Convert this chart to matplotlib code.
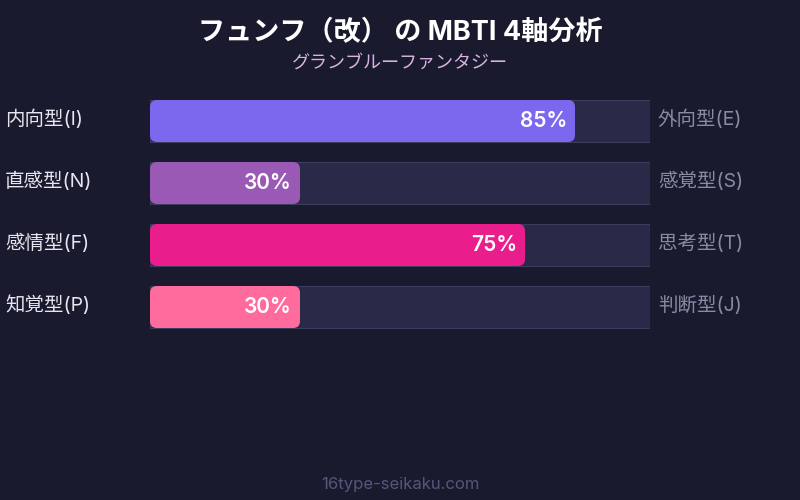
import matplotlib
matplotlib.use("Agg")
import matplotlib.pyplot as plt
from matplotlib.patches import FancyBboxPatch

plt.rcParams['font.family'] = ['Inter', 'Noto Sans CJK JP', 'DejaVu Sans']

title = "フュンフ（改） の MBTI 4軸分析"
subtitle = "グランブルーファンタジー"
footer = "16type-seikaku.com"
left_labels = ["内向型(I)", "直感型(N)", "感情型(F)", "知覚型(P)"]
right_labels = ["外向型(E)", "感覚型(S)", "思考型(T)", "判断型(J)"]
values = [85, 30, 75, 30]
colors = ["#7b68ee", "#9b59b6", "#e91e8c", "#ff6b9d"]

BG = "#1a1a2e"
W, H = 800, 500
fig = plt.figure(figsize=(8, 5), dpi=100, facecolor=BG)

# bar axes in pixel layout: x 150..650, y 90..338
ax = fig.add_axes([150 / W, 1 - 338 / H, 500 / W, 248 / H])
ax.set_facecolor(BG)
ax.set_xlim(0, 100)
ax.set_ylim(len(values) - 0.5, -0.5)
ax.axis('off')

bh = 42 / 62
ys = list(range(len(values)))
ax.barh(ys, [100] * len(values), height=bh, left=0, color="#2a2a48",
        edgecolor="#3c3c5c", linewidth=0.8, zorder=1)

px_x = 100 / 500
px_y = 1 / 62
r = 7 * px_x
for y, v, c, ll, rl in zip(ys, values, colors, left_labels, right_labels):
    p = FancyBboxPatch((0, y - bh / 2), v, bh,
                       boxstyle=f"round,pad=0,rounding_size={r}",
                       mutation_aspect=(7 * px_y) / r,
                       facecolor=c, edgecolor="none", zorder=2)
    ax.add_patch(p)
    ax.text(v - 8 * px_x, y, f"{v}%", ha='right', va='center', color='white',
            fontsize=15, fontweight='semibold', zorder=3)
    ax.text(-145 * px_x, y - 0.03, ll, ha='left', va='center', color='#e6e6f0',
            fontsize=14, clip_on=False)
    ax.text(100 + 8 * px_x, y - 0.03, rl, ha='left', va='center', color='#8a8aa6',
            fontsize=14, clip_on=False)

fig.text(0.5, 1 - 33 / H, title, ha='center', va='center', color='white',
         fontsize=19.5, fontweight='bold')
fig.text(0.5, 1 - 63 / H, subtitle, ha='center', va='center', color='#d8b4e2',
         fontsize=13)
fig.text(0.5, 1 - 484 / H, footer, ha='center', va='center', color='#56567a',
         fontsize=12)

fig.savefig("out.png", dpi=100, facecolor=BG)
